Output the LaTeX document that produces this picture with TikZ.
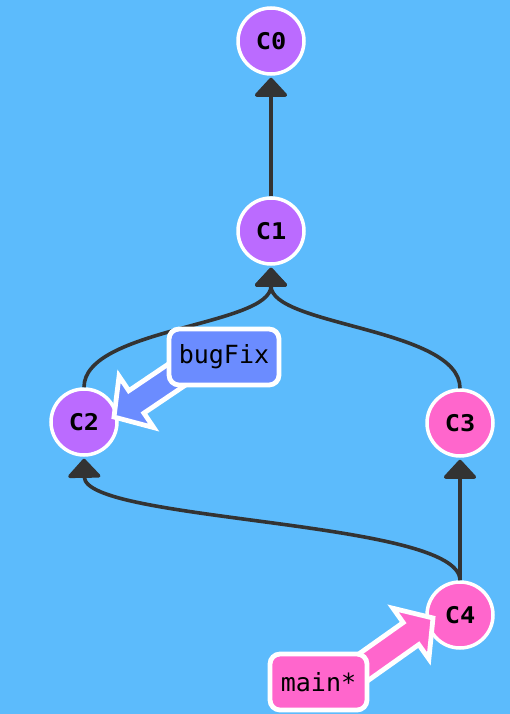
\documentclass[tikz,border=0pt]{standalone}
\usepackage{fontspec}
\usetikzlibrary{arrows.meta}
\newfontfamily\cmtmono[FakeStretch=1.1]{DejaVu Sans Mono}
\newfontfamily\lblmono{DejaVu Sans Mono}
\definecolor{bg}{HTML}{5CBBFC}
\definecolor{purp}{HTML}{BB6BFF}
\definecolor{pinkc}{HTML}{FF66CC}
\definecolor{bluel}{HTML}{6B8CFF}
\definecolor{edgec}{HTML}{333333}
\begin{document}
\begin{tikzpicture}[x=1pt,y=-1pt,
  commit/.style={circle, draw=white, line width=3.5pt, minimum size=66pt, inner sep=0pt,
    font=\cmtmono\bfseries\fontsize{23}{23}\selectfont},
  edge/.style={draw=edgec, line width=3.6pt, -{Triangle[width=36pt,length=20pt,round]}, shorten >=2pt},
  branch/.style={draw=white, line width=4.8pt, rounded corners=10pt, minimum height=56pt,
    inner sep=0pt, font=\lblmono\fontsize{25}{25}\selectfont},
  barrow/.style={draw=white, line width=4.8pt, line join=miter}
]
\fill[bg] (0,0) rectangle (510,714);
\useasboundingbox (0,0) rectangle (510,714);

\node[commit, fill=purp] (c0) at (271,41) {C0};
\node[commit, fill=purp] (c1) at (271,231) {C1};
\node[commit, fill=purp] (c2) at (84,422) {C2};
\node[commit, fill=pinkc] (c3) at (460,423) {C3};
\node[commit, fill=pinkc] (c4) at (460,615) {C4};

\draw[edge] (c1.north) -- (c0.south);
\draw[edge] (c2.north) .. controls (84,328) and (271,326) .. (c1.south);
\draw[edge] (c3.north) .. controls (460,328) and (271,326) .. (c1.south);
\draw[edge] (c4.north) -- (c3.south);
\draw[edge] (c4.north) .. controls (460,520) and (85,522) .. (c2.south);

\begin{scope}[shift={(114,417)}, rotate=214]
\path[barrow, fill=bluel] (0,0) -- (-27,31) -- (-27,13.5) -- (-110,13.5) -- (-110,-13.5) -- (-27,-13.5) -- (-27,-31) -- cycle;
\end{scope}
\begin{scope}[shift={(433,618)}, rotate=35.3]
\path[barrow, fill=pinkc] (0,0) -- (-27,31) -- (-27,13.5) -- (-110,13.5) -- (-110,-13.5) -- (-27,-13.5) -- (-27,-31) -- cycle;
\end{scope}

\node[branch, fill=bluel, minimum width=110pt] (bugfix) at (224,357) {bugFix};
\node[branch, fill=pinkc, minimum width=97pt] (main) at (318.5,682) {main*};
\end{tikzpicture}
\end{document}
